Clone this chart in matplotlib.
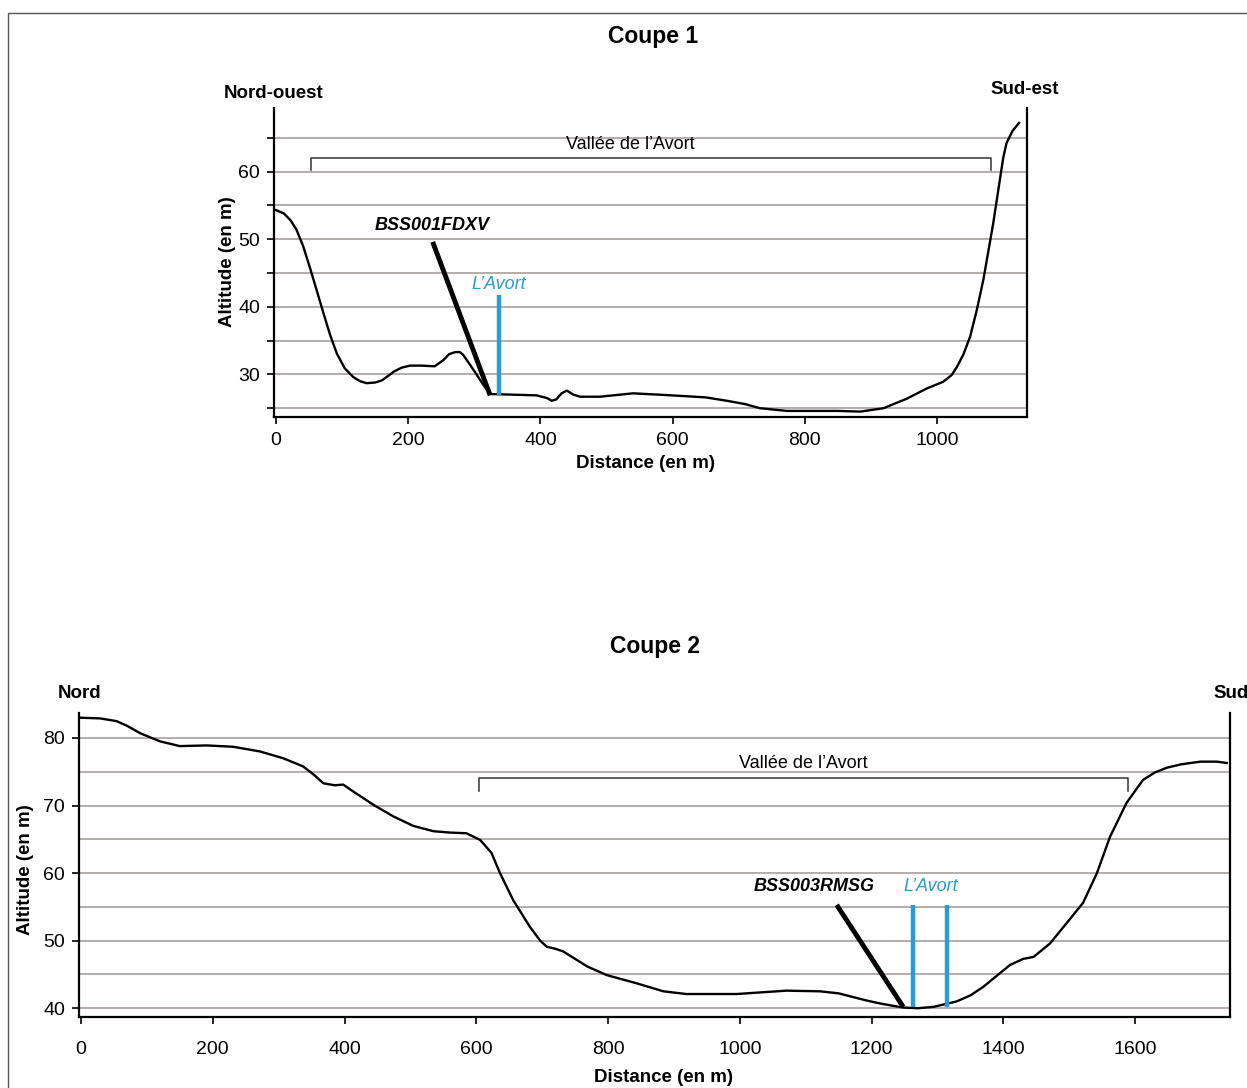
import matplotlib.pyplot as plt
from matplotlib.patches import Rectangle
from matplotlib.ticker import MultipleLocator

plt.rcParams['font.family'] = ['Liberation Sans', 'DejaVu Sans']

# --- Coupe 1 (profil nord-ouest -> sud-est)
dist1 = [0, 12, 22, 31, 41, 51, 62, 72, 82, 92, 104, 117, 127, 137, 150, 160, 170, 178, 190, 203, 220,
         240, 253, 262, 271, 278, 283, 293, 304, 314, 324,
         394, 410, 417, 424, 432, 440, 450, 460, 490, 540, 580, 616, 650, 682, 710, 732, 773, 818, 850, 884, 919,
         954, 984, 1009, 1022, 1030, 1040, 1050, 1060, 1070, 1085, 1095, 1100, 1105, 1114, 1124]
alt1 = [54.3, 53.8, 52.8, 51.4, 49.0, 45.9, 42.3, 39.0, 35.8, 33.1, 30.9, 29.6, 29.0, 28.7, 28.8, 29.1, 29.8, 30.4, 31.0, 31.3, 31.3,
        31.2, 32.1, 33.0, 33.3, 33.3, 32.9, 31.5, 29.9, 28.4, 27.1,
        26.9, 26.5, 26.1, 26.3, 27.2, 27.6, 27.0, 26.7, 26.7, 27.2, 27.0, 26.8, 26.6, 26.1, 25.6, 25.0, 24.6, 24.6, 24.6, 24.5, 25.0,
        26.4, 27.9, 28.9, 29.9, 31.1, 33.0, 35.6, 39.5, 44.0, 52.4, 58.8, 62.0, 64.2, 66.0, 67.2]
vallee1 = [53, 1082]
forage1_x = [237, 324]
forage1_y = [49.6, 26.9]
avort1_x = [337]
avort1_y = [41.7, 26.9]

# --- Coupe 2 (profil nord -> sud)
dist2 = [0, 29, 54, 70, 90, 120, 150, 191, 231, 272, 307, 337, 353, 368, 385, 398, 413, 444, 474, 504,
         535, 560, 585, 606, 623, 636, 656, 681, 697, 707, 720, 732, 750, 768, 798, 843, 884, 919, 995,
         1071, 1122, 1150, 1170, 1190, 1208, 1230, 1248, 1270, 1294, 1329, 1350, 1370, 1390, 1410, 1430, 1446, 1471, 1496, 1521,
         1542, 1562, 1587, 1612, 1630, 1648, 1670, 1699, 1724, 1739]
alt2 = [83.0, 82.9, 82.5, 81.8, 80.7, 79.5, 78.8, 78.9, 78.7, 78.0, 77.0, 75.8, 74.6, 73.3, 73.0, 73.1, 72.1, 70.1, 68.4, 67.0,
        66.2, 66.0, 65.9, 64.9, 63.0, 60.0, 56.0, 52.1, 50.0, 49.1, 48.8, 48.4, 47.3, 46.2, 44.9, 43.7, 42.5, 42.1, 42.1,
        42.6, 42.5, 42.2, 41.7, 41.2, 40.8, 40.4, 40.1, 40.0, 40.2, 41.0, 41.9, 43.2, 44.8, 46.4, 47.3, 47.6, 49.6, 52.6, 55.6,
        60.0, 65.4, 70.4, 73.8, 74.9, 75.6, 76.1, 76.5, 76.5, 76.3]
vallee2 = [604, 1589]
forage2_x = [1147, 1248]
forage2_y = [55.3, 40.2]
avort2_x = [1263, 1314]
avort2_y = [55.3, 40.2]

W, H = 1247, 1088
fig = plt.figure(figsize=(W / 100, H / 100), dpi=100)

GRID = '#aea6a4'
BLUE = '#2b9ad6'


def add_ax(l, t, r, b):
    return fig.add_axes([l / W, 1 - b / H, (r - l) / W, (b - t) / H])


def style(ax, minor_ticks, xpad):
    ax.spines['top'].set_visible(False)
    for s in ['left', 'bottom', 'right']:
        ax.spines[s].set_linewidth(1.6)
    ax.yaxis.set_major_locator(MultipleLocator(10))
    ax.yaxis.set_minor_locator(MultipleLocator(5))
    ax.grid(axis='y', which='both', color=GRID, lw=1.3)
    ax.set_axisbelow(True)
    ax.tick_params(axis='both', which='major', labelsize=14, length=5, width=1.2, pad=5)
    ax.tick_params(axis='x', which='major', pad=xpad)
    ax.tick_params(axis='y', which='minor', length=5 if minor_ticks else 0, width=1.2)


# ---------- Coupe 1
ax1 = add_ax(274, 108, 1027, 417)
ax1.plot(dist1, alt1, color='black', lw=1.7, solid_joinstyle='round')
ax1.set_xlim(-3, 1136)
ax1.set_ylim(23.7, 69.4)
ax1.set_xticks([0, 200, 400, 600, 800, 1000])
style(ax1, True, 6)
ax1.plot([vallee1[0], vallee1[0], vallee1[1], vallee1[1]], [60.3, 62.0, 62.0, 60.3],
         color='#333333', lw=1.1)
ax1.text(536, 62.7, 'Vallée de l’Avort', ha='center', va='bottom', fontsize=13)
ax1.plot(forage1_x, forage1_y, color='black', lw=3.5, solid_capstyle='butt')
ax1.text(forage1_x[0], forage1_y[0] + 1.2, 'BSS001FDXV', ha='center', va='bottom',
         fontsize=13, fontweight='bold', style='italic')
ax1.plot([avort1_x[0], avort1_x[0]], avort1_y, color=BLUE, lw=3.2, solid_capstyle='butt')
ax1.text(avort1_x[0], avort1_y[0] + 0.4, 'L’Avort', ha='center', va='bottom',
         fontsize=13, style='italic', color=BLUE)

# ---------- Coupe 2
ax2 = add_ax(79, 713, 1230, 1017)
ax2.plot(dist2, alt2, color='black', lw=1.7, solid_joinstyle='round')
ax2.set_xlim(-3, 1744)
ax2.set_ylim(38.7, 83.7)
ax2.set_xticks([0, 200, 400, 600, 800, 1000, 1200, 1400, 1600])
style(ax2, False, 12)
ax2.plot([vallee2[0], vallee2[0], vallee2[1], vallee2[1]], [72.2, 74.1, 74.1, 72.2],
         color='#333333', lw=1.1)
ax2.text(sum(vallee2) / 2, 74.9, 'Vallée de l’Avort', ha='center', va='bottom', fontsize=13)
ax2.plot(forage2_x, forage2_y, color='black', lw=3.5, solid_capstyle='butt')
ax2.text(forage2_x[0] - 34, forage2_y[0] + 1.4, 'BSS003RMSG', ha='center', va='bottom',
         fontsize=13, fontweight='bold', style='italic')
for xa in avort2_x:
    ax2.plot([xa, xa], avort2_y, color=BLUE, lw=3.2, solid_capstyle='butt')
ax2.text(sum(avort2_x) / 2 + 1, forage2_y[0] + 1.4, 'L’Avort', ha='center', va='bottom',
         fontsize=13, style='italic', color=BLUE)


def ftext(x, y, s, **kw):
    fig.text(x / W, 1 - y / H, s, **kw)


ftext(653, 37, 'Coupe 1', ha='center', va='center', fontsize=16.5, fontweight='bold')
ftext(274, 93, 'Nord-ouest', ha='center', va='center', fontsize=13.5, fontweight='bold')
ftext(1025, 90, 'Sud-est', ha='center', va='center', fontsize=13.5, fontweight='bold')
ftext(228, 262, 'Altitude (en m)', ha='center', va='center', rotation=90, fontsize=13.5, fontweight='bold')
ftext(645, 464, 'Distance (en m)', ha='center', va='center', fontsize=13.5, fontweight='bold')

ftext(655, 646, 'Coupe 2', ha='center', va='center', fontsize=16.5, fontweight='bold')
ftext(80, 693, 'Nord', ha='center', va='center', fontsize=13.5, fontweight='bold')
ftext(1213, 693, 'Sud', ha='left', va='center', fontsize=13.5, fontweight='bold')
ftext(26, 870, 'Altitude (en m)', ha='center', va='center', rotation=90, fontsize=13.5, fontweight='bold')
ftext(664, 1077, 'Distance (en m)', ha='center', va='center', fontsize=13.5, fontweight='bold')

# cadre autour de la figure
fig.patches.append(Rectangle((8 / W, -0.1), 1.2, 1 - 13 / H + 0.1, transform=fig.transFigure,
                             fill=False, edgecolor='#555555', lw=1))

fig.savefig('out.png', dpi=100)
